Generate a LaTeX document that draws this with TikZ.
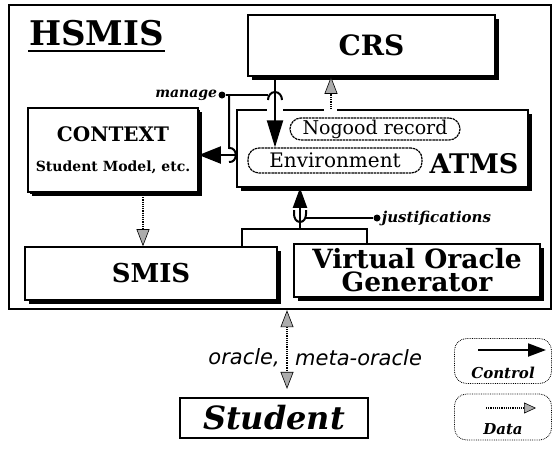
\documentclass[tikz,border=0pt]{standalone}
\usepackage{fontspec}
\setmainfont{DejaVu Serif}
\newfontfamily\sansfam{DejaVu Sans}
\usetikzlibrary{arrows.meta,shadows}
\begin{document}
\begin{tikzpicture}[x=1pt,y=-1pt,
  box/.style={draw, line width=1.6pt, fill=white, inner sep=0pt, align=center,
    drop shadow={shadow xshift=3.5pt, shadow yshift=-3.5pt, fill=black, opacity=1}},
  pill/.style={draw, line width=1.2pt, dash pattern=on 2.5pt off 0.7pt, rounded corners=11pt, inner sep=0pt},
  wire/.style={line width=2pt},
  data/.style={densely dotted, line width=1.2pt,
    -{Triangle[length=17pt,width=13pt,fill=gray!65,line width=0.6pt]}},
  dot/.style={circle, fill, inner sep=0pt, minimum size=7pt},
  lbl/.style={inner sep=1pt},
  legend/.style={draw, densely dotted, line width=0.8pt, rounded corners=12pt, minimum width=97pt}
]
\useasboundingbox (0,0) rectangle (555,448);

% outer HSMIS box
\node[draw, line width=2.4pt, minimum width=542pt, minimum height=304pt, inner sep=0pt] (hsmis) at (280,157) {};
\node[lbl, anchor=base west, font=\bfseries\fontsize{34}{34}\selectfont] (title) at (28,45) {HSMIS};
\draw[line width=2pt] (title.base west) ++(0,6) coordinate (ul1) -- (ul1 -| title.base east);

% boxes
\node[box, minimum width=247pt, minimum height=61pt, font=\bfseries\fontsize{28}{28}\selectfont] (crs) at (371.5,45.5) {CRS};
\node[box, minimum width=291pt, minimum height=77pt] (atms) at (382.5,148.5) {};
\node[box, drop shadow={shadow xshift=2pt, shadow yshift=-2pt, fill=black, opacity=1}, minimum width=170pt, minimum height=84pt] (context) at (113,150) {};
\node[lbl, font=\bfseries\fontsize{20}{20}\selectfont] (ctxt) at (113,134) {CONTEXT};
\node[lbl, font=\bfseries\fontsize{14}{14}\selectfont] (smodel) at (113,167) {Student Model, etc.};
\node[box, minimum width=252pt, minimum height=53pt, font=\bfseries\fontsize{26}{26}\selectfont] (smis) at (151,273.5) {SMIS};
\node[box, minimum width=246pt, minimum height=53pt, font=\bfseries\fontsize{26.5}{23}\selectfont] (vog) at (417,270.5) {Virtual Oracle\\Generator};

% inside ATMS
\node[pill, minimum width=170pt, minimum height=22pt, font=\fontsize{19}{19}\selectfont] (nogood) at (375,129) {Nogood record};
\node[pill, minimum width=174pt, minimum height=25pt, font=\fontsize{20}{20}\selectfont] (env) at (335,160.5) {Environment};
\node[lbl, font=\bfseries\fontsize{27}{27}\selectfont] (atmslbl) at (474,164) {ATMS};

% gaps in ATMS top border
\fill[white] (267,106) rectangle (283,114);
\fill[white] (324,106) rectangle (337,114);

% student
\node[draw, line width=2.2pt, minimum width=188pt, minimum height=40pt, inner sep=0pt, font=\bfseries\itshape\fontsize{32}{32}\selectfont] (student) at (274,418) {Student};

% manage control
\node[dot] (mdot) at (222,95) {};
\node[lbl, anchor=east, font=\bfseries\itshape\fontsize{14}{14}\selectfont] (manage) at (mdot.west) {manage};
\coordinate (mx) at (275,95);
\draw[wire, {Triangle[length=27pt,width=16pt]}-] (env.north -| mx) -- (crs.south -| mx);
\draw[wire] (mdot) -- (268,95);
\draw[wire] (268,100) to[out=90,in=180] (275,92) to[out=0,in=90] (282,100);
\coordinate (bx) at (229,155);
\draw[wire] (mdot.east -| bx) -- (229,148) .. controls (238,147) and (238,163) .. (229,162);
\draw[wire, -{Triangle[length=22pt,width=17pt]}] (atms.west |- bx) -- (context.east |- bx);

% justifications control
\coordinate (jx) at (300,229);
\node[dot] (jdot) at (377,218) {};
\node[lbl, anchor=west, font=\bfseries\itshape\fontsize{15}{15}\selectfont] (just) at (jdot.east) {justifications};
\draw[wire, -{Triangle[length=20pt,width=14pt]}] (jx) -- (atms.south -| jx);
\draw[wire] (294,210) -- (294,214) to[out=-90,in=180] (300,222) to[out=0,in=-90] (306,214) -- (306,210);
\draw[wire] (306,218) -- (jdot);
\draw[wire] (smis.north -| 242,0) -- (242,229) -- (367,229) -- (vog.north -| 367,0);

% data arrows
\coordinate (d1) at (331,0);
\draw[data] (atms.north -| d1) -- (crs.south -| d1);
\coordinate (d2) at (143,0);
\draw[data] (context.south -| d2) -- (smis.north -| d2);
\coordinate (d3) at (287,0);
\draw[data] (student.north -| d3) ++(0,-34) coordinate (dm) -- (hsmis.south -| d3);
\draw[data, shorten >=8pt] (dm) -- (student.north -| d3);
\node[lbl, anchor=east, font=\sansfam\itshape\fontsize{21}{21}\selectfont] (oracle) at (281,358) {oracle,};
\node[lbl, anchor=west, font=\sansfam\itshape\fontsize{21}{21}\selectfont] (meta) at (294,358) {meta-oracle};

% legend
\node[legend, minimum height=45pt] (lctrl) at (503,361) {};
\node[lbl, font=\bfseries\itshape\fontsize{15}{15}\selectfont] (ctrltxt) at (503,373) {Control};
\coordinate (lc1) at (478,350);
\coordinate (lc2) at (546,350);
\draw[wire, -{Triangle[length=18pt,width=13pt]}] (lc1) -- (lc2);
\node[legend, minimum height=46pt] (ldata) at (503,417) {};
\node[lbl, font=\bfseries\itshape\fontsize{15}{15}\selectfont] (datatxt) at (503,429) {Data};
\coordinate (ld1) at (486,408);
\coordinate (ld2) at (536,408);
\draw[data, -{Triangle[length=12pt,width=11pt,fill=gray!65,line width=0.6pt]}] (ld1) -- (ld2);
\end{tikzpicture}
\end{document}
